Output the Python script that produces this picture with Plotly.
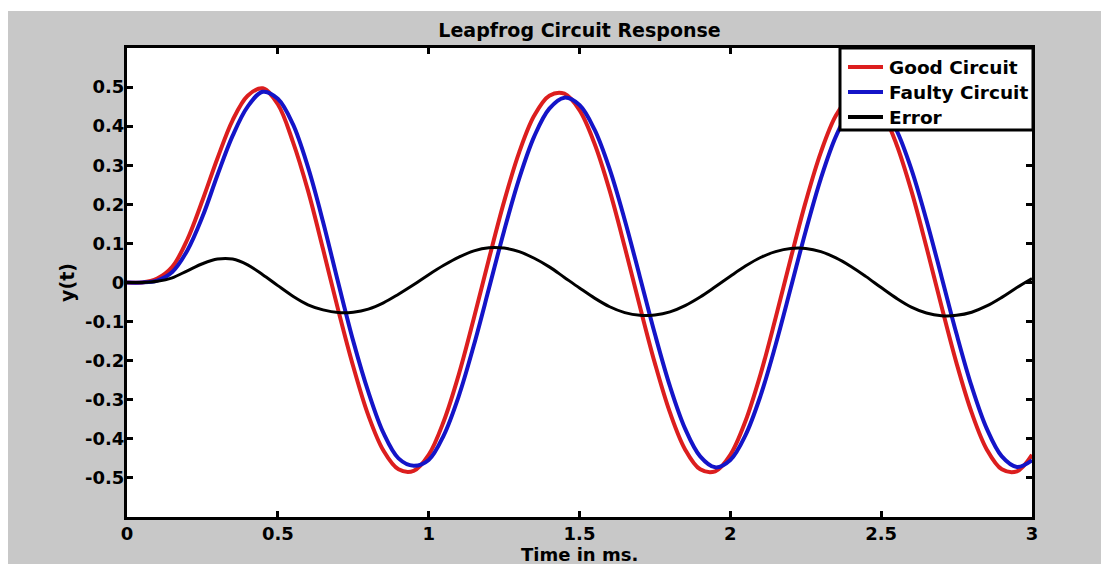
import plotly.graph_objects as go

# Time axis (ms)
t = [round(i * 0.05, 2) for i in range(61)]

good_circuit = [
    0.0, 0.0, 0.01, 0.04, 0.11, 0.21, 0.318, 0.415, 0.478, 0.497,
    0.456, 0.36, 0.235, 0.085, -0.07, -0.215, -0.34, -0.43, -0.478, -0.482,
    -0.441, -0.355, -0.235, -0.091, 0.061, 0.207, 0.333, 0.427, 0.478, 0.483,
    0.441, 0.355, 0.235, 0.091, -0.061, -0.207, -0.333, -0.427, -0.478, -0.483,
    -0.441, -0.355, -0.235, -0.091, 0.061, 0.207, 0.333, 0.427, 0.478, 0.483,
    0.441, 0.355, 0.235, 0.091, -0.061, -0.207, -0.333, -0.427, -0.478, -0.483,
    -0.441,
]

faulty_circuit = [
    0.0, 0.0, 0.005, 0.027, 0.082, 0.168, 0.275, 0.375, 0.45, 0.488,
    0.47, 0.405, 0.295, 0.155, 0.0, -0.15, -0.28, -0.385, -0.45, -0.469,
    -0.454, -0.391, -0.29, -0.16, -0.015, 0.132, 0.266, 0.374, 0.445, 0.473,
    0.454, 0.391, 0.29, 0.16, 0.015, -0.132, -0.266, -0.374, -0.445, -0.473,
    -0.454, -0.391, -0.29, -0.16, -0.015, 0.132, 0.266, 0.374, 0.445, 0.472,
    0.454, 0.391, 0.29, 0.16, 0.015, -0.132, -0.266, -0.374, -0.445, -0.472,
    -0.455,
]

error = [
    0.0, 0.0, 0.003, 0.012, 0.03, 0.048, 0.06, 0.06, 0.045, 0.02,
    -0.008, -0.035, -0.057, -0.07, -0.077, -0.076, -0.068, -0.052, -0.03, -0.006,
    0.02, 0.044, 0.065, 0.081, 0.089, 0.088, 0.079, 0.062, 0.04, 0.013,
    -0.014, -0.04, -0.062, -0.077, -0.084, -0.083, -0.075, -0.059, -0.037, -0.011,
    0.016, 0.042, 0.064, 0.079, 0.087, 0.087, 0.079, 0.063, 0.041, 0.015,
    -0.013, -0.04, -0.063, -0.078, -0.085, -0.084, -0.076, -0.06, -0.038, -0.013,
    0.01,
]

series_names = ["Good Circuit", "Faulty Circuit", "Error"]
series_colors = ["#dc1e1e", "#1414c8", "#000000"]
series_widths = [4, 4, 3]

x_ticks = [0, 0.5, 1, 1.5, 2, 2.5, 3]
x_tick_labels = ["0", "0.5", "1", "1.5", "2", "2.5", "3"]
y_ticks = [-0.5, -0.4, -0.3, -0.2, -0.1, 0, 0.1, 0.2, 0.3, 0.4, 0.5]
y_tick_labels = ["-0.5", "-0.4", "-0.3", "-0.2", "-0.1", "0", "0.1", "0.2", "0.3", "0.4", "0.5"]

FONT = "DejaVu Sans, Arial, sans-serif"

fig = go.Figure()
for name, ys, col, w in zip(series_names, [good_circuit, faulty_circuit, error],
                            series_colors, series_widths):
    fig.add_trace(go.Scatter(x=t, y=ys, mode="lines", name=name, showlegend=False,
                             line=dict(color=col, width=w, shape="spline", smoothing=1.0)))

# the page body keeps its default 8px margin, which forms the white border
W, H = 1101, 556
L, R, T, B = 119, 1024, 40, 509
pw, ph = R - L, B - T


def px(xp):
    return (xp - L) / pw


def py(yp):
    return (B - yp) / ph


shapes = [
    dict(type="rect", xref="paper", yref="paper", x0=-0.5, x1=1.5, y0=py(3), y1=1.5,
         fillcolor="#ffffff", line=dict(width=0), layer="below"),
    # legend box
    dict(type="rect", xref="paper", yref="paper", x0=px(832), x1=px(1025), y0=py(122), y1=py(40),
         fillcolor="#ffffff", line=dict(color="#000000", width=3), layer="above"),
]
annotations = [
    dict(text="Time in ms.", xref="paper", yref="paper", x=0.5, y=py(546),
         xanchor="center", yanchor="middle", showarrow=False,
         font=dict(family=FONT, size=18, color="#000000", weight="bold")),
]
row_y = [59, 84, 109]
for name, col, ry in zip(series_names, series_colors, row_y):
    shapes.append(dict(type="line", xref="paper", yref="paper", x0=px(840), x1=px(875),
                       y0=py(ry), y1=py(ry), line=dict(color=col, width=4), layer="above"))
    annotations.append(dict(text=name, xref="paper", yref="paper", x=px(879), y=py(ry),
                            xanchor="left", yanchor="middle", showarrow=False,
                            font=dict(family=FONT, size=18.5, color="#000000", weight="bold")))

fig.update_layout(
    width=W, height=H,
    margin=dict(l=L, r=W - R, t=T, b=H - B, pad=0, autoexpand=False),
    paper_bgcolor="#c8c8c8",
    plot_bgcolor="#ffffff",
    font=dict(family=FONT, size=18, color="#000000"),
    title=dict(text="Leapfrog Circuit Response", x=0.5, xref="paper", xanchor="center",
               y=1 - 22 / H, yanchor="middle",
               font=dict(family=FONT, size=19, color="#000000", weight="bold")),
    showlegend=False,
    shapes=shapes,
    annotations=annotations,
)

fig.update_xaxes(
    range=[0, 3], tickmode="array", tickvals=x_ticks, ticktext=x_tick_labels,
    ticks="inside", ticklen=6, tickwidth=3, tickcolor="#000000",
    showline=True, linecolor="#000000", linewidth=3, mirror="ticks",
    showgrid=False, zeroline=False, automargin=False, ticklabelstandoff=-2,
    tickfont=dict(family=FONT, size=18, color="#000000", weight="bold"),
)
fig.update_yaxes(
    range=[-0.6, 0.6], tickmode="array", tickvals=y_ticks, ticktext=y_tick_labels,
    ticks="inside", ticklen=6, tickwidth=3, tickcolor="#000000",
    showline=True, linecolor="#000000", linewidth=3, mirror="ticks",
    showgrid=False, zeroline=False, automargin=False, ticklabelstandoff=-4,
    tickfont=dict(family=FONT, size=18, color="#000000", weight="bold"),
    title=dict(text="y(t)", standoff=6,
               font=dict(family=FONT, size=19, color="#000000", weight="bold")),
)

fig.write_html("out.html")
